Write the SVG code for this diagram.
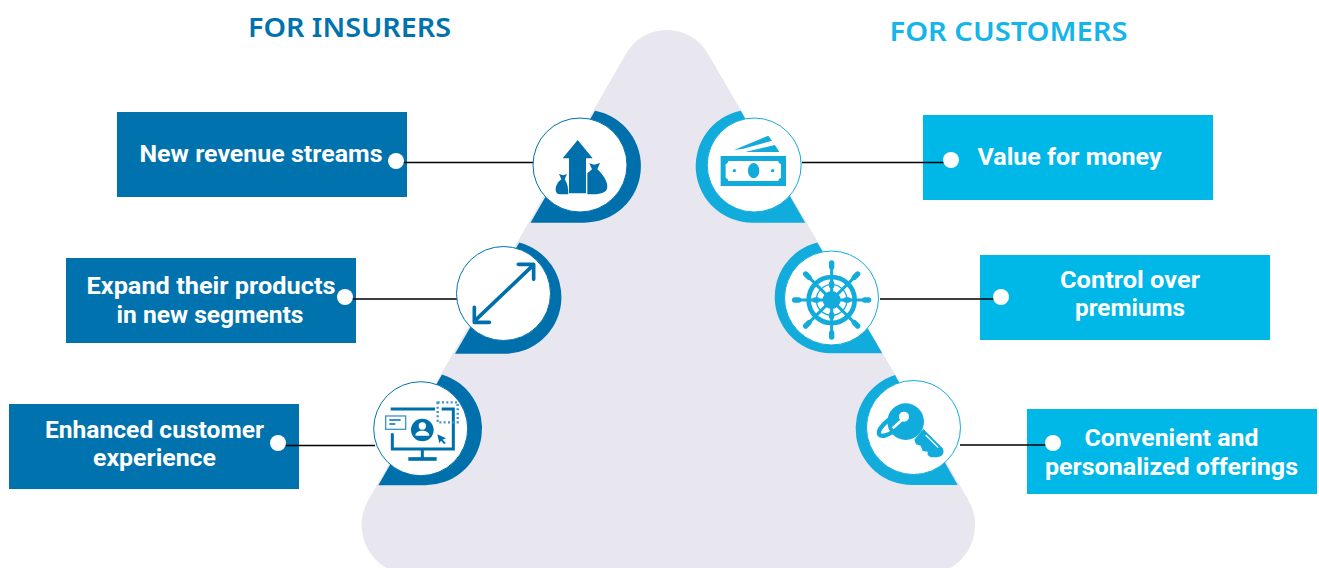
<svg xmlns="http://www.w3.org/2000/svg" width="1319" height="568" viewBox="0 0 1319 568">
<style>
.h{font-family:"Noto Sans","Open Sans",sans-serif;font-weight:600;font-size:27px}
.t{font-family:Roboto,"Noto Sans",sans-serif;font-weight:700;font-size:23.500px;fill:#fff;text-anchor:middle}
.l{fill:#0072AE}.r{fill:#00B8E8}.lr{fill:#0070AD}.rr{fill:#12ACDC}
.wl{fill:#fff;stroke:#0072AE;stroke-width:1}.wr{fill:#fff;stroke:#12ACDC;stroke-width:1}
.c{stroke:#000;stroke-width:1.6;fill:none}.d{fill:#fff}
.il{fill:#0070AD}.ir{fill:#12ACDC}
.sl{fill:none;stroke:#0070AD}.sr{fill:none;stroke:#12ACDC}
</style>
<path id="triangle" d="M626.200 53.600A47 47 0 0 1 707.800 53.600L968.400 500A50 50 0 0 1 950.500 568H386.200A50 50 0 0 1 368.300 500Z" fill="#E8E7EF"/>
<text class="h" x="349.500" y="37" text-anchor="middle" fill="#0072AE" textLength="203" lengthAdjust="spacingAndGlyphs">FOR INSURERS</text>
<text class="h" x="1008.500" y="41" text-anchor="middle" fill="#13B5EA" textLength="238" lengthAdjust="spacingAndGlyphs">FOR CUSTOMERS</text>
<g id="box-revenue"><rect class="l" x="117" y="112" width="290" height="85"/><text class="t" x="261" y="162" textLength="243" lengthAdjust="spacingAndGlyphs">New revenue streams</text></g>
<g id="box-expand"><rect class="l" x="66" y="258" width="290" height="85"/><text class="t" x="211" y="294" textLength="249" lengthAdjust="spacingAndGlyphs">Expand their products</text><text class="t" x="210" y="323" textLength="187" lengthAdjust="spacingAndGlyphs">in new segments</text></g>
<g id="box-experience"><rect class="l" x="9" y="404" width="290" height="85"/><text class="t" x="154.500" y="438" textLength="219" lengthAdjust="spacingAndGlyphs">Enhanced customer</text><text class="t" x="154.500" y="466" textLength="123" lengthAdjust="spacingAndGlyphs">experience</text></g>
<g id="box-value"><rect class="r" x="923" y="115" width="290" height="85"/><text class="t" x="1069.500" y="165" textLength="184" lengthAdjust="spacingAndGlyphs">Value for money</text></g>
<g id="box-control"><rect class="r" x="980" y="255" width="290" height="85"/><text class="t" x="1130" y="288" textLength="140" lengthAdjust="spacingAndGlyphs">Control over</text><text class="t" x="1130" y="316" textLength="110" lengthAdjust="spacingAndGlyphs">premiums</text></g>
<g id="box-offerings"><rect class="r" x="1027" y="409" width="290" height="85"/><text class="t" x="1171.500" y="446" textLength="174" lengthAdjust="spacingAndGlyphs">Convenient and</text><text class="t" x="1171.500" y="475" textLength="253" lengthAdjust="spacingAndGlyphs">personalized offerings</text></g>
<g id="connectors">
<path class="c" d="M396 162.500H534M345 299H457M278 445.500H375M802 162.500H951M880 299H1001M960 445H1053"/>
<circle class="d" cx="396" cy="161" r="8"/><circle class="d" cx="345" cy="297" r="8"/><circle class="d" cx="278" cy="443" r="8"/>
<circle class="d" cx="951" cy="160" r="8"/><circle class="d" cx="1001" cy="297" r="8"/><circle class="d" cx="1053" cy="443" r="8"/>
</g>
<g id="node-revenue">
<path class="lr" d="M530.500 222.700H584.500A56.500 56.500 0 0 0 595 110.700Z"/><circle class="wl" cx="580" cy="165" r="47"/>
<g class="il" transform="translate(500 90) scale(.3333)">
<path d="M233 150L278 205H258V310H207V205H188Z"/>
<path d="M268 220L283 224L300 219L292 238C305 250 322 270 322 290C322 310 300 313 262 313V250L276 238Z"/>
<path d="M177 252L190 256L201 252L194 268C203 280 205 295 205 313H180C165 313 165 295 170 285C174 275 180 272 184 268Z"/>
</g></g>
<g id="node-expand">
<path class="lr" d="M455 353.700H506.100A56.600 56.600 0 0 0 519.300 242.400Z"/><circle class="wl" cx="503.500" cy="293.500" r="47"/>
<g class="sl" transform="translate(360 230) scale(.3333)" stroke-linecap="round" stroke-linejoin="round"><path stroke-width="11" d="M345 272L518 107M475 103H521V148M343 232V277H388"/></g>
</g>
<g id="node-experience">
<path class="lr" d="M378.300 485.300H425A56.700 56.700 0 0 0 442 374.400Z"/><circle class="wl" cx="420.700" cy="428.700" r="47"/>
<g transform="translate(360 230) scale(.3333)">
<path class="sl" stroke-width="9" d="M92 537H225M245 537H280V657H97V610M187 657V687"/><path class="sl" stroke-width="11" d="M145 687H230"/>
<rect x="233" y="517" width="60" height="60" fill="none" stroke="#3E96C8" stroke-width="7" stroke-dasharray="6 7"/>
<rect x="77" y="558" width="60" height="40" fill="#fff" stroke="#3E96C8" stroke-width="4"/><path class="sl" stroke-width="4.500" d="M88 570H122M88 582H106"/>
<circle class="il" cx="187" cy="600" r="34"/><circle cx="187" cy="588" r="11" fill="#fff"/><path fill="#fff" d="M166 617C166 597 208 597 208 617Z"/>
<path class="il" d="M232 613L258 625L248 629L258 640L252 642L243 632L238 640Z"/>
</g></g>
<g id="node-value">
<path class="rr" d="M805.300 222.700H752.600A56.600 56.600 0 0 1 740.700 110.700Z"/><circle class="wr" cx="754.200" cy="165" r="47"/>
<g class="ir" transform="translate(500 90) scale(.3333)">
<path fill-rule="evenodd" d="M662 198H858V288H662ZM685 213C685 218 681 222 677 222V264C681 264 685 268 685 273H835C835 268 839 264 843 264V222C839 222 835 218 835 213Z"/>
<ellipse cx="761" cy="242" rx="17" ry="23"/><circle cx="703" cy="242" r="5"/><circle cx="818" cy="242" r="5"/>
<path d="M702 180L805 137L816 152L730 176ZM736 186L825 165L838 186Z"/>
</g></g>
<g id="node-control">
<path class="rr" d="M882.300 353.300H830.600A56.300 56.300 0 0 1 817.300 242.400Z"/><circle class="wr" cx="831.500" cy="298" r="47"/>
<g transform="translate(760 235) scale(.3333)">
<circle class="ir" cx="215" cy="195" r="27"/><circle class="sr" cx="215" cy="195" r="69" stroke-width="14"/><circle class="sr" cx="215" cy="195" r="46" stroke-width="4"/>
<path class="sr" stroke-width="9" d="M215 90V300M110 195H320M141 121L289 269M289 121L141 269"/>
<path class="sr" stroke-width="16" stroke-linecap="round" d="M215 84V96M215 294V306M104 195H116M314 195H326M137 117L147 127M283 263L293 273M293 117L283 127M147 263L137 273M215 145V152M215 238V245M165 195H172M258 195H265"/>
</g></g>
<g id="node-offerings">
<path class="rr" d="M957.700 485H912A56.300 56.300 0 0 1 895 375Z"/><circle class="wr" cx="913.500" cy="427.500" r="47"/>
<g transform="translate(760 235) scale(.3333)">
<path class="ir" d="M490 582L548 640C556 655 545 667 530 667H512L503 660V650L488 648L482 632L468 628L463 614Z"/>
<path d="M497 600L535 638" stroke="#fff" stroke-width="4" fill="none"/>
<circle class="ir" cx="437" cy="560" r="55"/>
<ellipse class="sr" cx="393" cy="572" rx="44" ry="18" stroke-width="13" transform="rotate(-38 393 572)"/>
<circle cx="432" cy="545" r="15" fill="#fff"/><path d="M425 556L398 580" stroke="#fff" stroke-width="8" fill="none"/>
</g></g>
</svg>
